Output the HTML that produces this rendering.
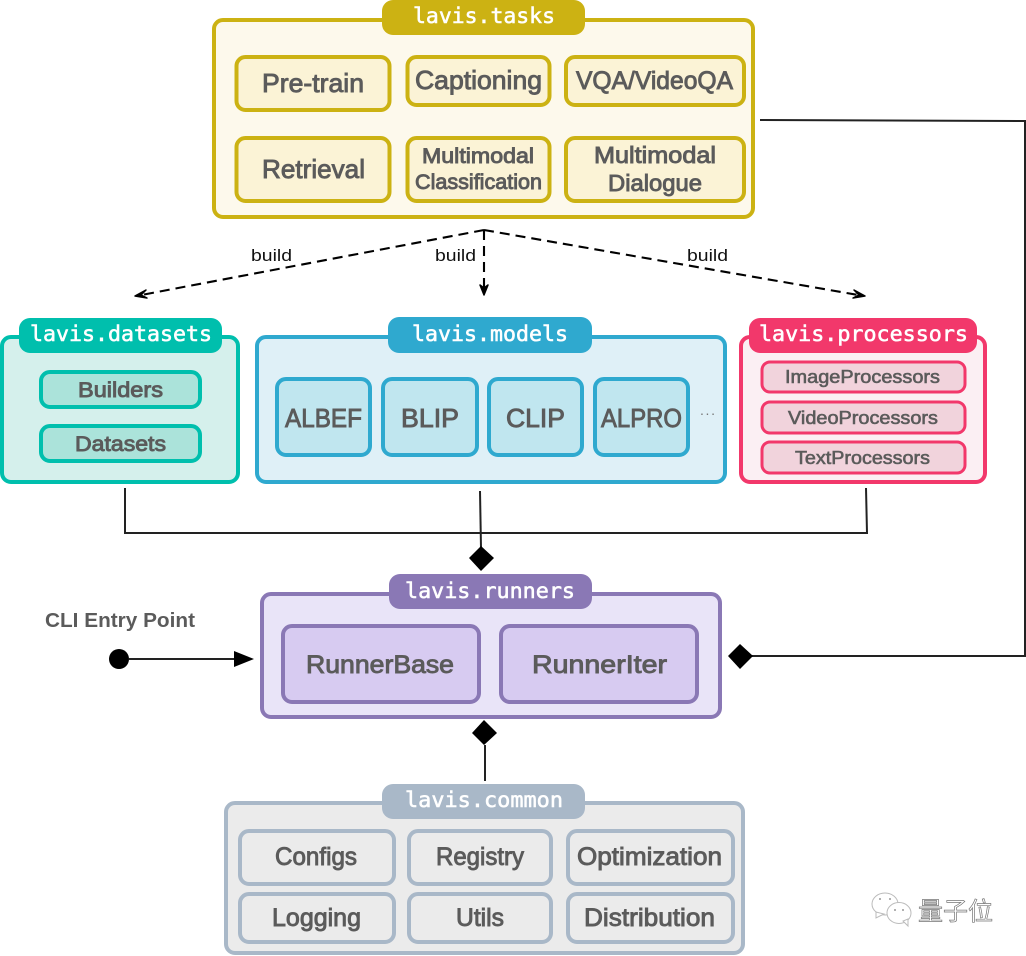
<!DOCTYPE html>
<html lang="en">
<head>
<meta charset="utf-8">
<title>LAVIS architecture</title>
<style>
html,body{margin:0;padding:0;background:#fff}
svg{display:block}
.l{font-family:"Liberation Sans",sans-serif;font-weight:normal;fill:#5b5b5b;stroke:#5b5b5b;stroke-width:.9}
.c{font-family:"Liberation Sans",sans-serif;font-weight:bold;fill:#5b5b5b}
.m{font-family:"DejaVu Sans Mono","Liberation Mono",monospace;font-size:21.5px;font-weight:normal;fill:#fff;stroke:#fff;stroke-width:.55}
.b{font-family:"Liberation Sans",sans-serif;font-size:17px;fill:#111}
</style>
</head>
<body>
<svg xmlns="http://www.w3.org/2000/svg" width="1026" height="956" viewBox="0 0 1026 956">
<rect width="1026" height="956" fill="#fff"/>

<!-- connectors -->
<g fill="none" stroke="#222" stroke-width="2">
<polyline points="760,120 1025,121 1025,656 750,656"/>
<polyline points="125,488 125,533 867,533 866,488"/>
<line x1="480" y1="491" x2="481" y2="548"/>
<line x1="129" y1="659" x2="236" y2="659"/>
<line x1="485" y1="745" x2="485" y2="781"/>
</g>
<g fill="none" stroke="#000" stroke-width="2.100" stroke-dasharray="10 6">
<line x1="484" y1="230" x2="136" y2="296"/>
<line x1="484" y1="230" x2="484" y2="294"/>
<line x1="484" y1="230" x2="864" y2="296"/>
</g>
<g fill="#000" stroke="#000" stroke-width="1.500" stroke-linejoin="round">
<polygon points="146,290 135,296 147,298 141,295"/>
<polygon points="480,285 484,295 488,285 484,288"/>
<polygon points="854,290 865,296 853,298 859,295"/>
</g>
<g fill="#000">
<polygon points="740,644 753,656 740,669 728,656"/>
<polygon points="481,546 494,558 481,571 469,558"/>
<polygon points="484,720 497,733 484,745 472,733"/>
<circle cx="119" cy="659" r="10"/>
<polygon points="234,651 254,659 234,667"/>
</g>
<text class="b" x="251" y="261" textLength="41" lengthAdjust="spacingAndGlyphs">build</text>
<text class="b" x="435" y="261" textLength="41" lengthAdjust="spacingAndGlyphs">build</text>
<text class="b" x="687" y="261" textLength="41" lengthAdjust="spacingAndGlyphs">build</text>

<!-- tasks -->
<g stroke="#ccb213" stroke-width="4" fill="#fbf3d6">
<rect x="214" y="20" width="539" height="197" rx="9" fill="#fdf9ec"/>
<rect x="236.500" y="57" width="153" height="53" rx="9"/>
<rect x="407.500" y="57" width="142" height="48" rx="9"/>
<rect x="566" y="57" width="178" height="48" rx="9"/>
<rect x="236.500" y="138" width="153" height="63" rx="9"/>
<rect x="407.500" y="138" width="142" height="63" rx="9"/>
<rect x="566" y="138" width="178" height="63" rx="9"/>
</g>
<rect x="382" y="0" width="203" height="35" rx="11" fill="#ccb213"/>
<text class="m" x="413" y="23" textLength="142" lengthAdjust="spacingAndGlyphs">lavis.tasks</text>
<text class="l" x="262" y="92" font-size="26" textLength="102" lengthAdjust="spacingAndGlyphs">Pre-train</text>
<text class="l" x="415" y="89" font-size="26" textLength="127" lengthAdjust="spacingAndGlyphs">Captioning</text>
<text class="l" x="576" y="89" font-size="25" textLength="157" lengthAdjust="spacingAndGlyphs">VQA/VideoQA</text>
<text class="l" x="262" y="178" font-size="26" textLength="103" lengthAdjust="spacingAndGlyphs">Retrieval</text>
<text class="l" x="422" y="163" font-size="21" textLength="112" lengthAdjust="spacingAndGlyphs">Multimodal</text>
<text class="l" x="415" y="189" font-size="21" textLength="127" lengthAdjust="spacingAndGlyphs">Classification</text>
<text class="l" x="594" y="163" font-size="23" textLength="122" lengthAdjust="spacingAndGlyphs">Multimodal</text>
<text class="l" x="608" y="191" font-size="23" textLength="94" lengthAdjust="spacingAndGlyphs">Dialogue</text>

<!-- datasets -->
<g stroke="#00bfad" stroke-width="4" fill="#abe3da">
<rect x="2" y="337" width="236" height="145" rx="9" fill="#d5f0ec"/>
<rect x="41" y="372" width="159" height="35" rx="9"/>
<rect x="41" y="426" width="159" height="35" rx="9"/>
</g>
<rect x="19" y="318" width="203" height="35" rx="11" fill="#00bfad"/>
<text class="m" x="30" y="341" textLength="182" lengthAdjust="spacingAndGlyphs">lavis.datasets</text>
<text class="l" x="78" y="397" font-size="21" textLength="85" lengthAdjust="spacingAndGlyphs">Builders</text>
<text class="l" x="75" y="451" font-size="21" textLength="91" lengthAdjust="spacingAndGlyphs">Datasets</text>

<!-- models -->
<g stroke="#2fa9cf" stroke-width="4" fill="#c0e6ef">
<rect x="257" y="337" width="468" height="145" rx="9" fill="#dff0f7"/>
<rect x="277" y="379" width="93" height="76" rx="9"/>
<rect x="383" y="379" width="94" height="76" rx="9"/>
<rect x="489" y="379" width="93" height="76" rx="9"/>
<rect x="595" y="379" width="93" height="76" rx="9"/>
</g>
<rect x="388" y="317" width="204" height="36" rx="11" fill="#2fa9cf"/>
<text class="m" x="412" y="341" textLength="156" lengthAdjust="spacingAndGlyphs">lavis.models</text>
<text class="l" x="285" y="427" font-size="26" textLength="77" lengthAdjust="spacingAndGlyphs">ALBEF</text>
<text class="l" x="401" y="427" font-size="26" textLength="58" lengthAdjust="spacingAndGlyphs">BLIP</text>
<text class="l" x="506" y="427" font-size="26" textLength="59" lengthAdjust="spacingAndGlyphs">CLIP</text>
<text class="l" x="601" y="427" font-size="26" textLength="81" lengthAdjust="spacingAndGlyphs">ALPRO</text>
<text x="700" y="415" font-family="Liberation Sans, sans-serif" font-size="14" fill="#777" textLength="15">...</text>

<!-- processors -->
<g stroke="#f2386b" stroke-width="3" fill="#f1d3dc">
<rect x="741" y="337" width="244" height="145" rx="9" fill="#fbeff3" stroke-width="4"/>
<rect x="762" y="362" width="203" height="30" rx="8"/>
<rect x="762" y="402" width="203" height="31" rx="8"/>
<rect x="762" y="442" width="203" height="31" rx="8"/>
</g>
<rect x="749" y="318" width="228" height="35" rx="11" fill="#f2386b"/>
<text class="m" x="759" y="341" textLength="209" lengthAdjust="spacingAndGlyphs">lavis.processors</text>
<text class="l" style="stroke-width:.6" x="785" y="383" font-size="18" textLength="155" lengthAdjust="spacingAndGlyphs">ImageProcessors</text>
<text class="l" style="stroke-width:.6" x="788" y="424" font-size="18" textLength="150" lengthAdjust="spacingAndGlyphs">VideoProcessors</text>
<text class="l" style="stroke-width:.6" x="795" y="464" font-size="18" textLength="135" lengthAdjust="spacingAndGlyphs">TextProcessors</text>

<!-- runners -->
<g stroke="#8a78b5" stroke-width="4" fill="#d7cbf1">
<rect x="262" y="594" width="458" height="123" rx="9" fill="#e9e4f8"/>
<rect x="283" y="626" width="196" height="76" rx="9"/>
<rect x="501" y="626" width="196" height="76" rx="9"/>
</g>
<rect x="389" y="574" width="203" height="35" rx="11" fill="#8a78b5"/>
<text class="m" x="405" y="598" textLength="170" lengthAdjust="spacingAndGlyphs">lavis.runners</text>
<text class="l" x="306" y="673" font-size="25" textLength="148" lengthAdjust="spacingAndGlyphs">RunnerBase</text>
<text class="l" x="532" y="673" font-size="25" textLength="135" lengthAdjust="spacingAndGlyphs">RunnerIter</text>
<text class="c" x="45" y="627" font-size="20" textLength="150" lengthAdjust="spacingAndGlyphs">CLI Entry Point</text>

<!-- common -->
<g stroke="#a9b8c8" stroke-width="4" fill="#ebebeb">
<rect x="226" y="803" width="517" height="150" rx="9"/>
<rect x="240" y="831" width="154" height="53" rx="9"/>
<rect x="409" y="831" width="142" height="53" rx="9"/>
<rect x="568" y="831" width="165" height="53" rx="9"/>
<rect x="240" y="894" width="154" height="48" rx="9"/>
<rect x="409" y="894" width="142" height="48" rx="9"/>
<rect x="568" y="894" width="165" height="48" rx="9"/>
</g>
<rect x="382" y="784" width="203" height="35" rx="11" fill="#a9b8c8"/>
<text class="m" x="405" y="807" textLength="158" lengthAdjust="spacingAndGlyphs">lavis.common</text>
<text class="l" x="275" y="865" font-size="25" textLength="82" lengthAdjust="spacingAndGlyphs">Configs</text>
<text class="l" x="436" y="865" font-size="25" textLength="88" lengthAdjust="spacingAndGlyphs">Registry</text>
<text class="l" x="577" y="865" font-size="25" textLength="145" lengthAdjust="spacingAndGlyphs">Optimization</text>
<text class="l" x="272" y="926" font-size="25" textLength="89" lengthAdjust="spacingAndGlyphs">Logging</text>
<text class="l" x="456" y="926" font-size="25" textLength="48" lengthAdjust="spacingAndGlyphs">Utils</text>
<text class="l" x="584" y="926" font-size="25" textLength="131" lengthAdjust="spacingAndGlyphs">Distribution</text>

<!-- watermark -->
<g fill="#fff" stroke="#bbb" stroke-width="1">
<ellipse cx="885" cy="904" rx="13" ry="11"/>
<polygon points="876,912 876,918 884,914"/>
<ellipse cx="899" cy="913" rx="12" ry="10.500"/>
<polygon points="903,921 908,926 908,919"/>
</g>
<g fill="#999">
<circle cx="880" cy="899" r="1"/><circle cx="890" cy="899" r="1"/>
<circle cx="895" cy="910" r="1"/><circle cx="903" cy="910" r="1"/>
</g>
<text x="918" y="920" font-family="'Liberation Sans','Noto Sans CJK SC',sans-serif" font-size="25" fill="#fff" stroke="#777" stroke-width=".7" textLength="75">量子位</text>
</svg>
</body>
</html>
